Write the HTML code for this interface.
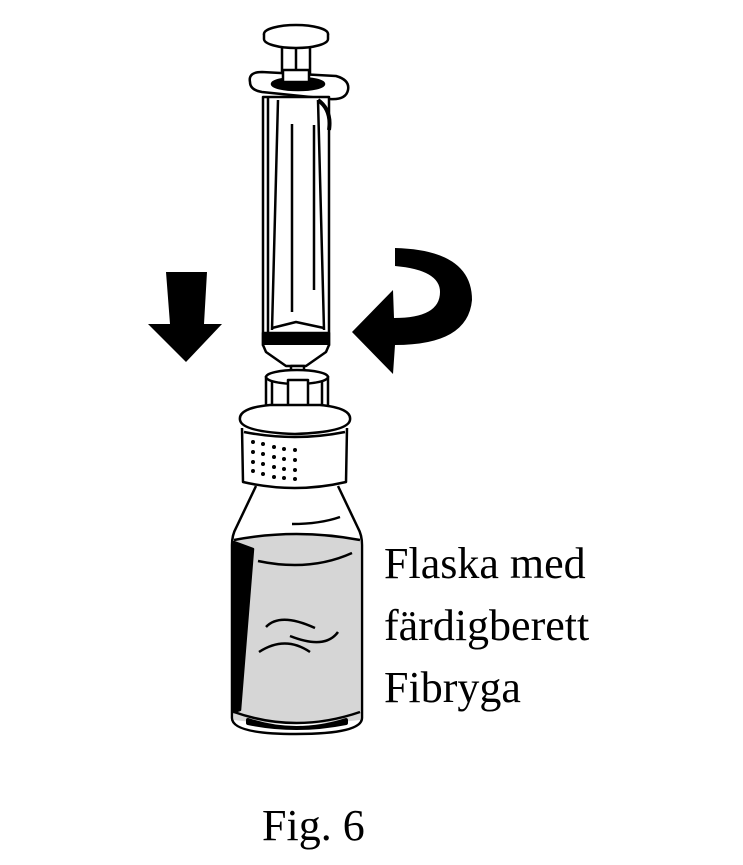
<!DOCTYPE html>
<html><head><meta charset="utf-8"><style>
html,body{margin:0;padding:0;background:#fff;}
svg{display:block;}
text{font-family:"Liberation Serif",serif;fill:#000;}
</style></head><body>
<svg width="743" height="865" viewBox="0 0 743 865" xmlns="http://www.w3.org/2000/svg">
<g fill="none" stroke="#000" stroke-width="2.5" stroke-linejoin="round">
<rect x="282" y="38" width="28" height="52" fill="#fff"/>
<line x1="296" y1="40" x2="296" y2="88"/>
<ellipse cx="296" cy="34" rx="32" ry="9" fill="#fff"/>
<path d="M264 34 v5 a32 9 0 0 0 64 0 v-5" fill="#fff"/>
<path d="M250 82 Q248 72 262 72 L336 76 Q350 80 348 90 Q346 100 330 99 L262 92 Q250 90 250 82 Z" fill="#fff"/>
<ellipse cx="298" cy="84" rx="26" ry="6" fill="#000"/>
<rect x="283" y="70" width="26" height="12" fill="#fff"/>
<rect x="263" y="97" width="66" height="248" fill="#fff"/>
<line x1="268" y1="97" x2="268" y2="332"/>
<path d="M278 100 L272 330 M318 100 L324 330"/>
<path d="M318 100 Q332 110 329 130" stroke-width="4"/>
<line x1="292" y1="124" x2="292" y2="312"/>
<line x1="314" y1="125" x2="314" y2="290"/>
<path d="M272 328 L296 322 L324 328"/>
<rect x="263" y="333" width="66" height="12" fill="#000"/>
<path d="M263 345 L266 352 L286 366 L306 366 L326 352 L329 345" fill="#fff"/>
<rect x="291" y="366" width="13" height="16" fill="#fff"/>
<path d="M266 376 L266 408 Q296 418 328 408 L328 376" fill="#fff"/>
<ellipse cx="297" cy="377" rx="31" ry="7" fill="#fff"/>
<rect x="288" y="380" width="20" height="30" fill="#fff"/>
<path d="M272 382 L272 410 M322 382 L322 410"/>
<path d="M240 420 Q238 408 270 405 L320 405 Q352 408 350 420 Q348 432 295 434 Q242 432 240 420 Z" fill="#fff"/>
<path d="M242 428 L243 482 Q295 494 346 482 L347 428"/>
<path d="M244 432 Q295 442 345 432"/>
<path d="M256 486 L236 528 Q232 535 232 545 L232 718 Q232 734 296 734 Q362 734 362 718 L362 545 Q362 535 358 528 L338 486"/>
<path d="M234 540 Q296 528 360 540 L360 720 Q296 728 234 720 Z" fill="#d6d6d6" stroke="none"/>
<path d="M234 540 Q296 528 360 540" />
<path d="M258 561 Q310 572 352 553"/>
<path d="M292 524 Q320 524 340 517"/>
<path d="M234 542 L253 549 L240 710 L234 712 Z" fill="#000"/>
<path d="M234 712 Q296 734 360 712"/>
<path d="M248 720 Q296 736 346 720 L346 723 Q296 733 248 723Z" fill="#000" stroke-width="4"/>
<path d="M266 627 Q280 612 315 628 M290 636 Q325 650 338 632 M259 652 Q285 635 310 652"/>
</g>
<g fill="#000">
<circle cx="253" cy="442" r="2"/><circle cx="263" cy="444" r="2"/><circle cx="274" cy="447" r="2"/><circle cx="284" cy="449" r="2"/><circle cx="295" cy="450" r="2"/>
<circle cx="253" cy="452" r="2"/><circle cx="263" cy="454" r="2"/><circle cx="274" cy="457" r="2"/><circle cx="284" cy="459" r="2"/><circle cx="295" cy="460" r="2"/>
<circle cx="253" cy="462" r="2"/><circle cx="263" cy="464" r="2"/><circle cx="274" cy="467" r="2"/><circle cx="284" cy="469" r="2"/><circle cx="295" cy="470" r="2"/>
<circle cx="253" cy="471" r="2"/><circle cx="263" cy="474" r="2"/><circle cx="274" cy="477" r="2"/><circle cx="284" cy="478" r="2"/><circle cx="295" cy="479" r="2"/>
<path d="M166 272 L207 272 L204 324 L222 324 L186 362 L148 324 L170 324 Z"/>
<path d="M395 248 Q472 250 472 300 Q468 345 395 345 L393 374 L352 332 L393 290 L394 318 Q440 318 440 292 Q440 270 395 266 Z"/>
</g>
<text x="384" y="578" font-size="44">Flaska med</text>
<text x="384" y="640" font-size="44">färdigberett</text>
<text x="384" y="702" font-size="44">Fibryga</text>
<text x="262" y="840" font-size="44">Fig. 6</text>
</svg>
</body></html>
